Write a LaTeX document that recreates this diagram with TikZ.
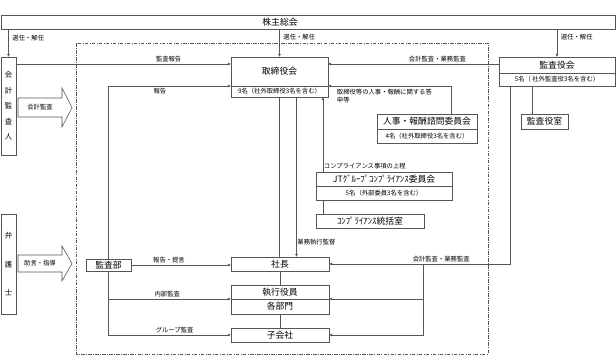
\documentclass[tikz,border=0pt]{standalone}
\usepackage{fontspec}
\usepackage{xcolor}
\usepackage{tikz}
\usetikzlibrary{
  arrows.meta,
  positioning
}
\newfontfamily\jp{Noto Sans CJK JP}
\newcommand\bigjp{\jp\fontsize{12.5}{14}\selectfont}
\newcommand\smalljp{\jp\fontsize{9}{11.5}\selectfont}
\definecolor{linegray}{RGB}{85,85,85}
\tikzset{
  jtorg/.style={ font=\smalljp },
  unitbox/.style={
    draw=linegray,
    fill=white,
    line width=0.8pt,
    inner sep=0pt,
    outer sep=0pt,
    minimum height=0.7cm,
    font=\bigjp
  },
  notebox/.style={
    unitbox,
    font=\smalljp
  },
  tatebox/.style={
    unitbox,
    minimum width=0.75cm,
    align=center
  },
  conn/.style={
    draw=linegray,
    line width=0.8pt
  },
  arrow/.style={
    conn,
    -{Latex[length=1.6mm,width=1.5mm]}
  },
  lbl/.style={
    font=\smalljp,
    inner sep=1pt
  },
  blockarrow/.style={
    draw=linegray,
    fill=white,
    line width=0.8pt,
    line join=miter
  },
  frame/.style={
    draw=linegray,
    line width=0.8pt,
    dash pattern=on 5pt off 2pt on 1pt off 2pt
  }
}

\begin{document}
\begin{tikzpicture}[jtorg, x=0.05cm, y=-0.05cm]
  \useasboundingbox (0,0) rectangle (616,357);
  \draw[frame] (76,43) rectangle (488,354);

  \node[unitbox, minimum width=30.7cm] (kabu) at (308,22) {};
  \node[font=\bigjp] (kabu-t) at (280,22) {株主総会};

  \node[unitbox, minimum width=4.85cm, minimum height=1.45cm] (tori) at (279.5,71.5) {取締役会};
  \node[notebox, minimum width=4.85cm, minimum height=0.55cm, below=0pt of tori] (tori-n) {9名（社外取締役3名を含む）};
  \node[unitbox, minimum width=5cm, minimum height=0.75cm] (jinji) at (427,121.5) {人事・報酬諮問委員会};
  \node[notebox, minimum width=5cm, below=0pt of jinji] (jinji-n) {4名（社外取締役3名を含む）};
  \node[unitbox, minimum width=6.8cm] (jt) at (384,179) {JTｸﾞﾙｰﾌﾟｺﾝﾌﾟﾗｲｱﾝｽ委員会};
  \node[notebox, minimum width=6.8cm, below=0pt of jt] (jt-n) {5名（外部委員3名を含む）};
  \node[unitbox, minimum width=5.4cm] (tokatsu) at (370,221) {ｺﾝﾌﾟﾗｲｱﾝｽ統括室};
  \node[unitbox, minimum width=5.8cm, minimum height=0.8cm] (kansa) at (557,65) {監査役会};
  \node[notebox, minimum width=5.8cm, minimum height=0.65cm, below=0pt of kansa] (kansa-n) {5名（ 社外監査役3名を含む）};
  \node[unitbox, minimum width=2.35cm, minimum height=0.75cm] (shitsu) at (544.5,121.5) {監査役室};

  \node[unitbox, minimum width=4.9cm] (shacho) at (280,264) {社長};
  \node[unitbox, minimum width=4.9cm] (shikko) at (280,292) {執行役員};
  \node[unitbox, minimum width=4.9cm, minimum height=0.75cm, below=0pt of shikko] (kakubu) {各部門};
  \node[unitbox, minimum width=4.9cm] (kogaisha) at (280,335) {子会社};
  \node[unitbox, minimum width=2.25cm, minimum height=0.6cm] (kansabu) at (108.5,265) {監査部};

  \node[tatebox, minimum height=4.9cm, font={\jp\fontsize{10.5}{22}\selectfont}] (kaikei) at (8.5,106) {会\\計\\監\\査\\人};
  \node[tatebox, minimum height=5cm, font={\jp\fontsize{10.5}{40}\selectfont}] (bengo) at (8.5,264) {弁\\護\\士};

  \foreach \yc/\hh/\sh/\txt/\nm in {107.5/19.5/9.5/会計監査/kaikei-ya, 263.5/17.5/8.5/助言・指導/bengo-ya} {
    \draw[blockarrow] (18,\yc-\sh) -- (62,\yc-\sh) -- (62,\yc-\hh) -- (72,\yc)
      -- (62,\yc+\hh) -- (62,\yc+\sh) -- (18,\yc+\sh) -- cycle;
    \node[lbl] (\nm) at (40,\yc) {\txt};
  }

  \coordinate (tori-l1) at ([yshift=-0.35cm]tori.north west);
  \coordinate (tori-r1) at ([yshift=-0.35cm]tori.north east);
  \coordinate (jinji-top) at ([xshift=-1.3cm]jinji.north east);
  \coordinate (jt-top) at ([xshift=0.35cm]jt.north west);
  \coordinate (tori-dn) at ([xshift=0.85cm]tori-n.south);
  \coordinate (kansa-dn) at ([xshift=0.55cm]kansa-n.south west);
  \coordinate (kansa-br) at ([xshift=4.7cm]shacho.east);
  \coordinate (shitsu-up) at ([xshift=-0.6cm]shitsu.north);

  \draw[arrow] (kabu.south -| kaikei.north) -- (kaikei.north) node[lbl, pos=0.32, right=0.15cm] {選任・解任};
  \draw[arrow] (kabu.south -| tori.north) -- (tori.north) node[lbl, pos=0.3, right=0.15cm] {選任・解任};
  \draw[arrow] (kabu.south -| kansa.north) -- (kansa.north) node[lbl, pos=0.3, right=0.15cm] {選任・解任};
  \draw[arrow] (kaikei.east |- tori-l1) -- (tori-l1) node[lbl, pos=0.71, above=2pt] {監査報告};
  \draw[arrow] (kansa.west |- tori-r1) -- (tori-r1) node[lbl, pos=0.36, above=2pt] {会計監査・業務監査};
  \draw[arrow] (kansabu.north) |- (tori.south west) node[lbl, pos=0.71, below=2pt] {報告};
  \draw[arrow] (jinji-top) |- (tori.south east)
    node[lbl, pos=1, anchor=north west, xshift=0.4cm, yshift=-0.12cm, align=left] {取締役等の人事・報酬に関する答\\申等};
  \draw[arrow] (jt-top) -- (tori-n.south -| jt-top) node[lbl, pos=0, anchor=south west, yshift=0.1cm] {コンプライアンス事項の上程};
  \draw[conn] (jt-n.south -| jt-top) -- (tokatsu.north -| jt-top);
  \draw[conn] (kansa-n.south -| shitsu-up) -- (shitsu-up);

  \draw[conn] (tori-n.south) -- (tori-n.south |- shacho.north);
  \draw[conn] (shacho.south) -- (shikko.north);
  \draw[conn] (kakubu.south) -- (kogaisha.north);
  \draw[arrow] (tori-dn) -- (tori-dn |- shacho.north) node[lbl, pos=0.91, right] {業務執行監督};
  \draw[arrow] (kansa-dn) |- (shacho.east) node[lbl, pos=0.69, above=2pt] {会計監査・業務監査};
  \draw[arrow] (kansa-br) |- (shikko.south east);
  \draw[arrow] (kansa-br) |- (kogaisha.east);

  \draw[arrow] (kansabu.east) -- (shacho.west |- kansabu.east) node[lbl, pos=0.38, above=2pt] {報告・提言};
  \draw[arrow] (kansabu.south) |- (shikko.south west) node[lbl, pos=0.74, above=2pt] {内部監査};
  \draw[arrow] (kansabu.south) |- (kogaisha.west) node[lbl, pos=0.77, above=2pt] {グループ監査};
\end{tikzpicture}
\end{document}
